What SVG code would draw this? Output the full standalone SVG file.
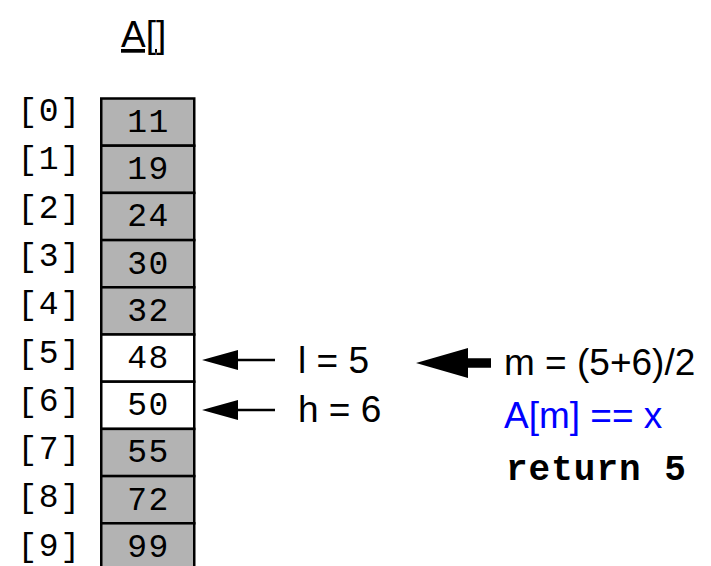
<svg xmlns="http://www.w3.org/2000/svg" width="711" height="566" viewBox="0 0 711 566">
<style>
.mono{font-family:"Liberation Mono","Courier New",monospace;font-size:33px;letter-spacing:1.5px;fill:#000}
.sans{font-family:"Liberation Sans",Arial,sans-serif;font-size:37px;fill:#000}
.ret{font-family:"Liberation Mono","Courier New",monospace;font-size:36px;font-weight:bold;letter-spacing:1px;fill:#000}
.idx{text-anchor:middle}
.val{text-anchor:middle}
.cell{stroke:#000;stroke-width:2.5}
.g{fill:#b3b3b3}
.w{fill:#fff}
.ar{fill:#000}
</style>
<rect width="711" height="566" fill="#fff"/>
<g id="title"><text class="sans" x="121" y="47" text-decoration="underline">A[]</text></g>
<g id="indices">
<text class="mono idx" x="49.5" y="121">[0]</text>
<text class="mono idx" x="49.5" y="169.3">[1]</text>
<text class="mono idx" x="49.5" y="217.6">[2]</text>
<text class="mono idx" x="49.5" y="265.9">[3]</text>
<text class="mono idx" x="49.5" y="314.2">[4]</text>
<text class="mono idx" x="49.5" y="362.5">[5]</text>
<text class="mono idx" x="49.5" y="410.8">[6]</text>
<text class="mono idx" x="49.5" y="459.1">[7]</text>
<text class="mono idx" x="49.5" y="507.4">[8]</text>
<text class="mono idx" x="49.5" y="555.7">[9]</text>
</g>
<g id="cell0"><rect class="cell g" x="101.25" y="98.5" width="93" height="47.2"/><text class="mono val" x="148.5" y="132">11</text></g>
<g id="cell1"><rect class="cell g" x="101.25" y="145.7" width="93" height="47.2"/><text class="mono val" x="148.5" y="179.2">19</text></g>
<g id="cell2"><rect class="cell g" x="101.25" y="192.9" width="93" height="47.2"/><text class="mono val" x="148.5" y="226.4">24</text></g>
<g id="cell3"><rect class="cell g" x="101.25" y="240.1" width="93" height="47.2"/><text class="mono val" x="148.5" y="273.6">30</text></g>
<g id="cell4"><rect class="cell g" x="101.25" y="287.3" width="93" height="47.2"/><text class="mono val" x="148.5" y="320.8">32</text></g>
<g id="cell5"><rect class="cell w" x="101.25" y="334.5" width="93" height="47.2"/><text class="mono val" x="148.5" y="368">48</text></g>
<g id="cell6"><rect class="cell w" x="101.25" y="381.7" width="93" height="47.2"/><text class="mono val" x="148.5" y="415.2">50</text></g>
<g id="cell7"><rect class="cell g" x="101.25" y="428.9" width="93" height="47.2"/><text class="mono val" x="148.5" y="462.4">55</text></g>
<g id="cell8"><rect class="cell g" x="101.25" y="476.1" width="93" height="47.2"/><text class="mono val" x="148.5" y="509.6">72</text></g>
<g id="cell9"><rect class="cell g" x="101.25" y="523.3" width="93" height="47.2"/><text class="mono val" x="148.5" y="556.8">99</text></g>
<g id="connectors">
<path class="ar" d="M202,360 L238,350 L238,358.8 L275,358.8 L275,361.2 L238,361.2 L238,370 Z"/>
<path class="ar" d="M202,410 L238,400 L238,408.8 L275,408.8 L275,411.2 L238,411.2 L238,420 Z"/>
<path class="ar" d="M416,363 L468,348 L468,358.3 L491,358.3 L491,367.7 L468,367.7 L468,378 Z"/>
</g>
<g id="label-l"><text class="sans" x="298" y="373">l = 5</text></g>
<g id="label-h"><text class="sans" x="298" y="422">h = 6</text></g>
<g id="label-m"><text class="sans" x="504" y="375">m = (5+6)/2</text></g>
<g id="label-cmp"><text class="sans" x="504" y="428" style="fill:#0000ff">A[m] == x</text></g>
<g id="label-ret"><text class="ret" x="506" y="480">return 5</text></g>
</svg>
